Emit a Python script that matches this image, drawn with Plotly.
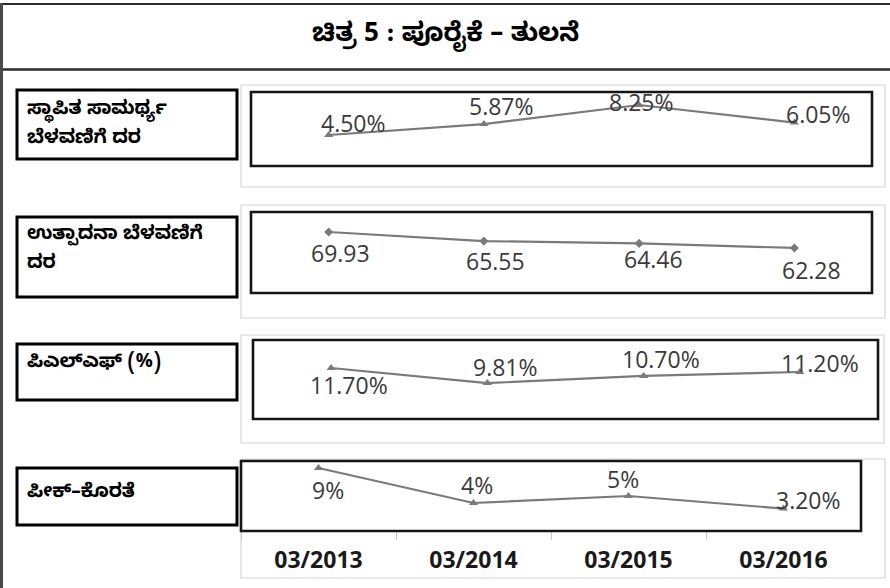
import plotly.graph_objects as go

W, H = 890, 588

# ---- data ----
categories = ["03/2013", "03/2014", "03/2015", "03/2016"]
capacity_growth = [4.50, 5.87, 8.25, 6.05]
capacity_labels = ["4.50%", "5.87%", "8.25%", "6.05%"]
generation_growth = [69.93, 65.55, 64.46, 62.28]
generation_labels = ["69.93", "65.55", "64.46", "62.28"]
plf = [11.70, 9.81, 10.70, 11.20]
plf_labels = ["11.70%", "9.81%", "10.70%", "11.20%"]
peak_shortage = [9.0, 4.0, 5.0, 3.20]
peak_labels = ["9%", "4%", "5%", "3.20%"]

title_text = "ಚಿತ್ರ 5 : ಪೂರೈಕೆ – ತುಲನೆ"
row_titles = [
    ["ಸ್ಥಾಪಿತ ಸಾಮರ್ಥ್ಯ", "ಬೆಳವಣಿಗೆ ದರ"],
    ["ಉತ್ಪಾದನಾ ಬೆಳವಣಿಗೆ", "ದರ"],
    ["ಪಿಎಲ್ಎಫ್ (%)"],
    ["ಪೀಕ್–ಕೊರತೆ"],
]

# ---- layout helpers (pixel -> paper) ----
def fx(p):
    return p / W

def fy(p):
    return 1 - p / H

KAN = "Noto Sans Kannada, Noto Serif Kannada, Lohit Kannada, Tunga, Noto Sans, sans-serif"
NUM = "Open Sans, Noto Sans, sans-serif"

panels = [
    dict(vals=capacity_growth, labs=capacity_labels, sym="triangle-up", msize=8,
         inner=(251, 872, 92, 166), gray=(241, 885, 85, 187), lbox=(17, 237, 90, 159),
         line1=111, yr=[0.625, 9.875],
         shifts=[(25, 12), (18, 18), (2, 3), (24, 9)]),
    dict(vals=generation_growth, labs=generation_labels, sym="diamond", msize=7,
         inner=(251, 872, 212, 293), gray=(241, 885, 205, 318), lbox=(17, 237, 217, 297),
         line1=236, yr=[40.7, 79.5],
         shifts=[(12, -21), (12, -20), (14, -16), (17, -22)]),
    dict(vals=plf, labs=plf_labels, sym="triangle-up", msize=8,
         inner=(253, 878, 340, 419), gray=(241, 884, 335, 443), lbox=(17, 237, 344, 400),
         line1=364, yr=[5.28, 15.23],
         shifts=[(18, -17), (18, 16), (17, 17), (20, 9)]),
    dict(vals=peak_shortage, labs=peak_labels, sym="triangle-up", msize=8,
         inner=(241, 861, 461, 531), gray=(241, 885, 459, 578), lbox=(17, 237, 468, 525),
         line1=494, yr=[0, 10],
         shifts=[(9, -22), (3, 18), (-6, 17), (25, 9)]),
]

fig = go.Figure()
shapes = []
annotations = []
layout_axes = {}

for i, p in enumerate(panels, start=1):
    xs = "x" if i == 1 else f"x{i}"
    ys = "y" if i == 1 else f"y{i}"
    xa = "xaxis" if i == 1 else f"xaxis{i}"
    ya = "yaxis" if i == 1 else f"yaxis{i}"
    l, r, t, b = p["inner"]
    fig.add_trace(go.Scatter(
        x=categories, y=p["vals"], xaxis=xs, yaxis=ys, mode="lines+markers",
        line=dict(color="#7a7a7a", width=2.2),
        marker=dict(symbol=p["sym"], size=p["msize"], color="#7a7a7a"),
        showlegend=False, hoverinfo="skip",
    ))
    is_last = i == len(panels)
    layout_axes[xa] = dict(
        domain=[fx(l), fx(r)], anchor=ys, type="category",
        range=[-0.5, 3.5], showgrid=False, zeroline=False, showline=False,
        showticklabels=is_last, ticks="outside" if is_last else "",
        tickson="boundaries", ticklen=8, tickcolor="#c8c8c8", tickwidth=1,
        tickfont=dict(family=NUM, size=23, color="#1a1a1a", weight="bold"),
        ticklabelstandoff=13,
        fixedrange=True,
    )
    layout_axes[ya] = dict(
        domain=[fy(b), fy(t)], anchor=xs, range=p["yr"],
        visible=False, fixedrange=True,
    )
    # gray outer chart box
    gl, gr, gt, gb = p["gray"]
    shapes.append(dict(type="rect", xref="paper", yref="paper",
                       x0=fx(gl), x1=fx(gr), y0=fy(gb), y1=fy(gt),
                       line=dict(color="#d4d4d4", width=1.2), layer="below"))
    # black inner plot box
    shapes.append(dict(type="rect", xref="paper", yref="paper",
                       x0=fx(l), x1=fx(r), y0=fy(b), y1=fy(t),
                       line=dict(color="#151515", width=2.6), layer="above"))
    # label box
    bl, br, bt, bb = p["lbox"]
    shapes.append(dict(type="rect", xref="paper", yref="paper",
                       x0=fx(bl), x1=fx(br), y0=fy(bb), y1=fy(bt),
                       line=dict(color="#000000", width=3)))
    for k, line in enumerate(row_titles[i - 1]):
        annotations.append(dict(
            text=line, xref="paper", yref="paper",
            x=fx(bl + 8), y=fy(p["line1"] + 29 * k), xanchor="left", yanchor="middle",
            align="left", showarrow=False,
            font=dict(family=KAN, size=19, color="#000000", weight="bold"),
        ))
    # data labels
    for c, v, lab, (dx, dy) in zip(categories, p["vals"], p["labs"], p["shifts"]):
        annotations.append(dict(
            text=lab, xref=xs, yref=ys, x=c, y=v, xshift=dx, yshift=dy,
            showarrow=False, xanchor="center", yanchor="middle",
            font=dict(family=NUM, size=23, color="#3a3a3a"),
        ))

# title
annotations.append(dict(
    text=title_text, xref="paper", yref="paper", x=0.5, y=fy(37),
    xanchor="center", yanchor="middle", showarrow=False,
    font=dict(family=KAN, size=26, color="#000000", weight="bold"),
))

# outer frame lines
shapes.append(dict(type="line", xref="paper", yref="paper",
                   x0=fx(0), x1=fx(W), y0=fy(4), y1=fy(4),
                   line=dict(color="#2a2a2a", width=2)))
shapes.append(dict(type="line", xref="paper", yref="paper",
                   x0=fx(0), x1=fx(W), y0=fy(69.5), y1=fy(69.5),
                   line=dict(color="#2a2a2a", width=2.5)))
shapes.append(dict(type="line", xref="paper", yref="paper",
                   x0=fx(1.5), x1=fx(1.5), y0=fy(3), y1=fy(H),
                   line=dict(color="#4a4a4a", width=3)))

fig.update_layout(
    width=W, height=H, margin=dict(l=0, r=0, t=0, b=0),
    paper_bgcolor="white", plot_bgcolor="white",
    shapes=shapes, annotations=annotations, **layout_axes,
)

fig.write_html(
    "out.html",
    config={"displayModeBar": False},
    post_script="document.body.style.margin='0';document.body.style.padding='0';document.body.style.overflow='hidden';",
)
